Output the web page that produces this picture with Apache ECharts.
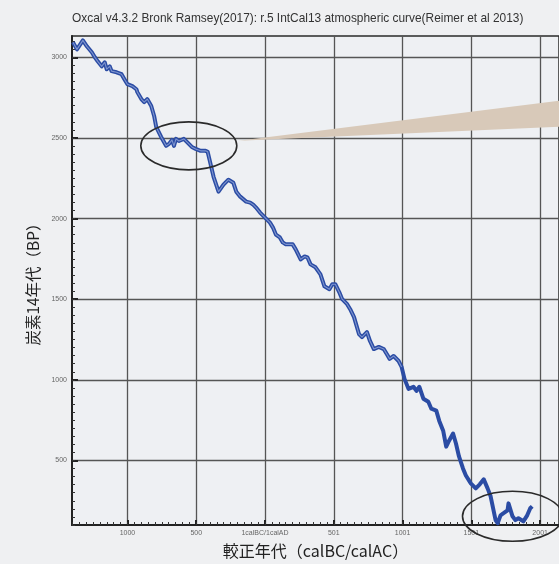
<!DOCTYPE html>
<html>
<head>
<meta charset="utf-8">
<script src="https://cdn.jsdelivr.net/npm/echarts@6/dist/echarts.min.js"></script>
<style>
  html, body { margin: 0; padding: 0; background: #eff0f2; }
  #main { width: 559px; height: 564px; }
</style>
</head>
<body>
<div id="main"></div>
<script>
// 較正年代 (calBC は負、0 = 1calBC/1calAD)
const calYear = [
  -1396, -1367, -1324, -1295, -1259, -1237, -1216, -1187, -1165, -1151,
  -1129, -1115, -1079, -1043, -1022, -1000, -964, -935, -928, -899,
  -878, -856, -827, -806, -791, -755, -719, -698, -676, -662,
  -647, -626, -590, -568, -532, -504, -468, -432, -417, -403,
  -374, -338, -302, -266, -230, -209, -180, -137, -108, -86,
  -65, -36, 0, 36, 58, 79, 108, 129, 151, 201,
  223, 259, 288, 309, 331, 367, 403, 432, 468, 489,
  511, 540, 561, 597, 619, 647, 683, 705, 741, 763,
  791, 827, 863, 885, 906, 935, 971, 993, 1014, 1043,
  1079, 1101, 1122, 1151, 1187, 1209, 1245, 1266, 1295, 1317,
  1338, 1367, 1388, 1410, 1439, 1460, 1496, 1532, 1561, 1590,
  1618, 1640, 1676, 1691, 1712, 1734, 1763, 1770, 1799, 1820,
  1842, 1878, 1906, 1928, 1942
];
// 炭素14年代 (BP)
const c14BP = [
  3093, 3049, 3105, 3068, 3031, 3000, 2975, 2944, 2969, 2926,
  2944, 2914, 2907, 2895, 2864, 2833, 2821, 2802, 2784, 2741,
  2722, 2741, 2698, 2636, 2568, 2506, 2451, 2463, 2488, 2451,
  2494, 2481, 2494, 2475, 2444, 2432, 2420, 2420, 2414, 2364,
  2259, 2167, 2210, 2241, 2222, 2167, 2136, 2105, 2099, 2086,
  2068, 2037, 2006, 1975, 1944, 1901, 1883, 1852, 1840, 1840,
  1809, 1747, 1765, 1759, 1716, 1698, 1654, 1580, 1562, 1593,
  1593, 1543, 1500, 1469, 1438, 1389, 1284, 1265, 1296, 1241,
  1191, 1204, 1191, 1160, 1130, 1148, 1117, 1080, 1006, 944,
  957, 932, 957, 883, 864, 821, 809, 747, 685, 586,
  623, 667, 605, 525, 451, 407, 358, 327, 352, 383,
  327, 278, 130, 111, 160, 173, 191, 234, 154, 130,
  142, 123, 160, 204, 216
];
const xTicks = [-1000, -500, 0, 500, 1000, 1500, 2000];
const yTicks = [500, 1000, 1500, 2000, 2500, 3000];
// 丸で囲む部分 (年代, BP)
const marks = [[-554, 2451], [1799, 154]];

const xMin = -1403, xMax = 2137, yMin = 100, yMax = 3132;
let xMinor = [], yMinor = [];
for (let v = -1400; v <= 2100; v += 50) xMinor.push(v);
for (let v = 100; v <= 3100; v += 50) yMinor.push(v);

const data = calYear.map((x, i) => [x, c14BP[i]]);
const cjk = '"Noto Sans CJK JP", "Noto Sans", sans-serif';

let chart = echarts.init(document.getElementById('main'));

function xLabel(v) {
  if (v === 0) return '1calBC/1calAD';
  return v < 0 ? String(-v) : String(v + 1);
}

chart.setOption({
  backgroundColor: '#eff0f2',
  animation: false,
  title: {
    text: 'Oxcal v4.3.2 Bronk Ramsey(2017): r.5 IntCal13 atmospheric curve(Reimer et al 2013)',
    left: 67, top: 8,
    textStyle: { fontSize: 11.9, fontWeight: 'normal', color: '#333', fontFamily: 'Liberation Sans, Arial, sans-serif' }
  },
  grid: {
    left: 72, right: -6, top: 36, bottom: 38,
    show: true, backgroundColor: '#eef0f3', borderColor: '#2a2a2a', borderWidth: 1.5
  },
  xAxis: [{
    type: 'value', min: xMin, max: xMax,
    name: '較正年代（calBC/calAC）', nameLocation: 'middle', nameGap: 18,
    nameTextStyle: { fontSize: 16, color: '#222', fontFamily: cjk },
    axisLine: { show: true, onZero: false, lineStyle: { color: '#222', width: 2 } },
    axisTick: { show: true, inside: true, length: 5, customValues: xTicks, lineStyle: { color: '#222', width: 2 } },
    axisLabel: { customValues: xTicks, formatter: xLabel, fontSize: 7, color: '#666', margin: 5 },
    splitLine: { show: true, lineStyle: { color: '#555', width: 1.3 } }
  }, {
    type: 'value', min: xMin, max: xMax, position: 'bottom',
    axisLine: { show: false, onZero: false },
    axisTick: { show: true, inside: true, length: 3, customValues: xMinor, lineStyle: { color: '#333', width: 1 } },
    axisLabel: { show: false },
    splitLine: { show: false }
  }],
  yAxis: [{
    type: 'value', min: yMin, max: yMax,
    name: '炭素14年代（BP）', nameLocation: 'middle', nameGap: 27, nameRotate: 90,
    nameTextStyle: { fontSize: 15.5, color: '#222', fontFamily: cjk },
    axisLine: { show: true, onZero: false, lineStyle: { color: '#222', width: 2 } },
    axisTick: { show: true, inside: true, length: 6, customValues: yTicks, lineStyle: { color: '#222', width: 2 } },
    axisLabel: { customValues: yTicks, formatter: v => String(v), fontSize: 7, color: '#666', margin: 5 },
    splitLine: { show: true, lineStyle: { color: '#555', width: 1.3 } }
  }, {
    type: 'value', min: yMin, max: yMax, position: 'left',
    axisLine: { show: false, onZero: false },
    axisTick: { show: true, inside: true, length: 3, customValues: yMinor, lineStyle: { color: '#333', width: 1 } },
    axisLabel: { show: false },
    splitLine: { show: false }
  }],
  series: [{
    type: 'line', data: data, symbol: 'none', silent: true, z: 3,
    lineStyle: { color: '#2b4ca4', width: 4, join: 'round' }
  }, {
    type: 'line', data: data.filter(p => p[0] < 1000), symbol: 'none', silent: true, z: 4,
    lineStyle: { color: '#7f95cf', width: 1.1, join: 'round' }
  }]
});

// 注記: 楕円と引き出しの帯
const p1 = chart.convertToPixel({ xAxisIndex: 0, yAxisIndex: 0 }, marks[0]);
const p2 = chart.convertToPixel({ xAxisIndex: 0, yAxisIndex: 0 }, marks[1]);
const W = chart.getWidth();
chart.setOption({
  graphic: [{
    type: 'polygon', z: 10,
    shape: { points: [[p1[0] + 50, p1[1] - 5], [W, p1[1] - 45], [W, p1[1] - 19]] },
    style: { fill: '#d8c9b9' }
  }, {
    type: 'ellipse', z: 11,
    shape: { cx: p1[0], cy: p1[1], rx: 48, ry: 24 },
    style: { fill: 'none', stroke: '#2a2a2a', lineWidth: 1.6 }
  }, {
    type: 'ellipse', z: 11,
    shape: { cx: p2[0], cy: p2[1], rx: 50, ry: 25 },
    style: { fill: 'none', stroke: '#2a2a2a', lineWidth: 1.6 }
  }]
});
</script>
</body>
</html>
